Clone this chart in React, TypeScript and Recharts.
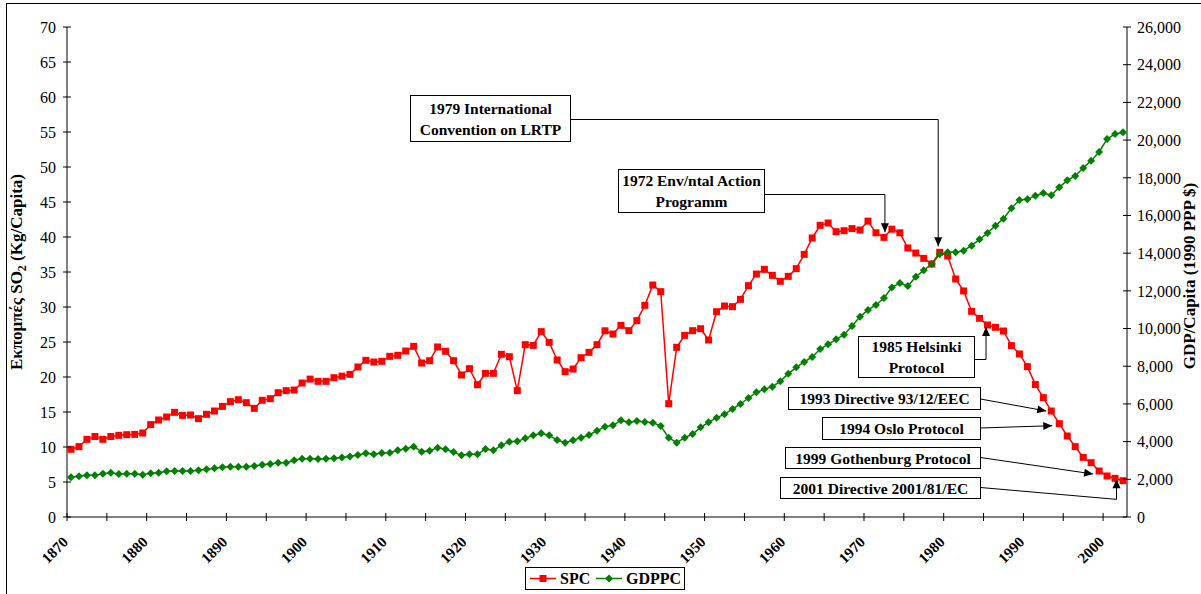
import React from 'react';
import { ComposedChart, Line, XAxis, YAxis, ReferenceDot } from 'recharts';

// ---------- data ----------
const FIRST_YEAR = 1870;

// SO2 emissions per capita (kg/capita), 1870..2002
const spc: number[] = [
  9.67, 10.05, 11.1, 11.5, 11.1, 11.5, 11.67, 11.76, 11.8, 12.0,
  13.2, 13.86, 14.29, 14.95, 14.52, 14.57, 14.05, 14.67, 15.14, 15.8,
  16.48, 16.76, 16.33, 15.52, 16.67, 16.9, 17.76, 18.05, 18.14, 19.14,
  19.7, 19.38, 19.38, 19.9, 20.12, 20.38, 21.43, 22.38, 22.14, 22.24,
  22.95, 23.1, 23.71, 24.38, 22.0, 22.33, 24.29, 23.67, 22.33, 20.29,
  21.19, 18.9, 20.52, 20.52, 23.24, 22.9, 18.05, 24.62, 24.52, 26.48,
  24.95, 22.43, 20.76, 21.14, 22.76, 23.52, 24.62, 26.6, 26.14, 27.38,
  26.62, 28.05, 30.24, 33.14, 32.19, 16.19, 24.24, 25.95, 26.62, 26.9,
  25.29, 29.33, 30.14, 30.05, 31.1, 33.05, 34.71, 35.38, 34.52, 33.67,
  34.38, 35.48, 37.52, 39.86, 41.67, 42.0, 40.76, 40.9, 41.2, 41.0,
  42.27, 40.6, 39.95, 41.12, 40.6, 38.43, 37.71, 36.95, 36.14, 37.81,
  37.29, 34.0, 32.29, 29.38, 28.38, 27.43, 27.1, 26.57, 24.48, 23.29,
  21.48, 18.92, 17.05, 15.14, 13.33, 11.57, 10.05, 8.52, 7.76, 6.57,
  5.86, 5.52, 5.19,
];

// GDP per capita (1990 PPP $), 1870..2002
const gdppc: number[] = [
  2106, 2160, 2213, 2213, 2300, 2353, 2282, 2300, 2300, 2246,
  2317, 2353, 2424, 2441, 2441, 2441, 2477, 2530, 2583, 2636,
  2671, 2671, 2671, 2706, 2777, 2812, 2883, 2883, 3007, 3096,
  3096, 3078, 3096, 3113, 3157, 3210, 3290, 3378, 3325, 3396,
  3414, 3537, 3626, 3732, 3467, 3520, 3679, 3590, 3449, 3272,
  3325, 3325, 3608, 3537, 3803, 3998, 4015, 4174, 4333, 4439,
  4333, 4086, 3944, 4068, 4210, 4351, 4581, 4785, 4864, 5129,
  5023, 5094, 5041, 5005, 4829, 4210, 3944, 4210, 4404, 4758,
  5023, 5271, 5448, 5731, 5996, 6314, 6615, 6774, 6916, 7199,
  7607, 7942, 8225, 8490, 8914, 9162, 9427, 9675, 10135, 10620,
  10990, 11250, 11620, 12180, 12410, 12257, 12752, 13090, 13425, 13937,
  14043, 14043, 14132, 14397, 14733, 15069, 15458, 15830, 16378, 16820,
  16856, 17050, 17192, 17068, 17493, 17864, 18094, 18519, 18908, 19367,
  20057, 20323, 20412,
];

const years: number[] = spc.map((_, i) => FIRST_YEAR + i);

const leftTicks = [0, 5, 10, 15, 20, 25, 30, 35, 40, 45, 50, 55, 60, 65, 70];
const rightTicks = [0, 2000, 4000, 6000, 8000, 10000, 12000, 14000, 16000, 18000, 20000, 22000, 24000, 26000];
// category boundaries (every 5 categories), labelled every 10 years
const xTicks = [
  1869.5, 1874.5, 1879.5, 1884.5, 1889.5, 1894.5, 1899.5, 1904.5, 1909.5,
  1914.5, 1919.5, 1924.5, 1929.5, 1934.5, 1939.5, 1944.5, 1949.5, 1954.5,
  1959.5, 1964.5, 1969.5, 1974.5, 1979.5, 1984.5, 1989.5, 1994.5, 1999.5,
];
const xLabelYears = [1870, 1880, 1890, 1900, 1910, 1920, 1930, 1940, 1950, 1960, 1970, 1980, 1990, 2000];

const data = years.map((year, i) => ({ year, spc: spc[i], gdppc: gdppc[i] }));

// ---------- styling ----------
const SERIF = '"Liberation Serif", "Times New Roman", Times, serif';
const RED = '#FF0000';
const GREEN = '#008000';

const valueOf = (year: number) => spc[year - FIRST_YEAR];

// ---------- ticks ----------
const XTick = (props: any) => {
  const { x, y, payload } = props;
  const yr = Math.round(payload.value + 0.5);
  const show = xLabelYears.includes(yr);
  const ax = x + 2;
  const ay = y + 26;
  return (
    <g>
      <line x1={x} x2={x} y1={y - 4} y2={y + 4} stroke="#000" strokeWidth={1} />
      {show && (
        <text
          x={ax}
          y={ay}
          transform={`rotate(-45 ${ax} ${ay})`}
          textAnchor="end"
          fontFamily={SERIF}
          fontWeight="bold"
          fontSize={15}
          fill="#000"
        >
          {yr}
        </text>
      )}
    </g>
  );
};

const LeftTick = (props: any) => {
  const { x, y, payload } = props;
  return (
    <g>
      <line x1={x - 4} x2={x + 4} y1={y} y2={y} stroke="#000" strokeWidth={1} />
      <text x={x - 11} y={y} dy="0.36em" textAnchor="end" fontFamily={SERIF} fontSize={16} fill="#000">
        {payload.value}
      </text>
    </g>
  );
};

const RightTick = (props: any) => {
  const { x, y, payload } = props;
  return (
    <g>
      <line x1={x - 4} x2={x + 4} y1={y} y2={y} stroke="#000" strokeWidth={1} />
      <text x={x + 10} y={y} dy="0.36em" textAnchor="start" fontFamily={SERIF} fontSize={16} fill="#000">
        {Number(payload.value).toLocaleString('en-US')}
      </text>
    </g>
  );
};

// ---------- markers ----------
const SquareDot = (p: any) => {
  if (p.cx == null || p.cy == null) return <g key={`s${p.index}`} />;
  return <rect key={`s${p.index}`} x={p.cx - 3.5} y={p.cy - 3.5} width={7} height={7} fill={RED} stroke="none" />;
};

const DiamondDot = (p: any) => {
  if (p.cx == null || p.cy == null) return <g key={`d${p.index}`} />;
  const { cx, cy } = p;
  const r = 4;
  return (
    <path
      key={`d${p.index}`}
      d={`M${cx},${cy - r}L${cx + r},${cy}L${cx},${cy + r}L${cx - r},${cy}Z`}
      fill={GREEN}
      stroke="none"
    />
  );
};

// ---------- annotations ----------
type Box = { x: number; y: number; w: number; h: number };
type Ann = {
  year: number;
  lines: string[];
  box: Box;
  path: (cx: number, cy: number) => [number, number][];
};

const annotations: Ann[] = [
  {
    year: 1979,
    lines: ['1979 International', 'Convention on LRTP'],
    box: { x: 410.5, y: 95.5, w: 160, h: 46 },
    path: (cx, cy) => [[570.5, 119.5], [cx - 1.5, 119.5], [cx - 1.5, cy - 6]],
  },
  {
    year: 1972,
    lines: ['1972 Env/ntal Action', 'Programm'],
    box: { x: 618.5, y: 169.5, w: 146, h: 43 },
    path: (cx, cy) => [[764.5, 194.5], [cx + 1, 194.5], [cx + 1, cy - 5]],
  },
  {
    year: 1985,
    lines: ['1985 Helsinki', 'Protocol'],
    box: { x: 858.5, y: 336.5, w: 116, h: 41 },
    path: (cx, cy) => [[974.5, 359.5], [cx - 1.5, 359.5], [cx - 1.5, cy + 2]],
  },
  {
    year: 1993,
    lines: ['1993 Directive 93/12/EEC'],
    box: { x: 788.5, y: 387.5, w: 192, h: 22 },
    path: (cx, cy) => [[980.5, 399], [cx - 5, cy]],
  },
  {
    year: 1994,
    lines: ['1994 Oslo Protocol'],
    box: { x: 822.5, y: 417.5, w: 158, h: 22 },
    path: (cx, cy) => [[980.5, 428], [cx - 7, cy + 2]],
  },
  {
    year: 1999,
    lines: ['1999 Gothenburg Protocol'],
    box: { x: 785.5, y: 447.5, w: 195, h: 21 },
    path: (cx, cy) => [[980.5, 457.5], [cx - 6, cy + 3]],
  },
  {
    year: 2001,
    lines: ['2001 Directive 2001/81/EC'],
    box: { x: 780.5, y: 477.5, w: 200, h: 21 },
    path: (cx, cy) => [[980.5, 487.5], [cx + 1.5, cy + 21], [cx + 1.5, cy + 1]],
  },
];

const arrowHead = (from: [number, number], to: [number, number]) => {
  const dx = to[0] - from[0];
  const dy = to[1] - from[1];
  const len = Math.sqrt(dx * dx + dy * dy) || 1;
  const ux = dx / len;
  const uy = dy / len;
  const L = 9;
  const W = 4;
  const bx = to[0] - ux * L;
  const by = to[1] - uy * L;
  return `M${to[0]},${to[1]}L${bx - uy * W},${by + ux * W}L${bx + uy * W},${by - ux * W}Z`;
};

const makeShape = (ann: Ann) => (p: any) => {
  const { cx, cy } = p;
  if (cx == null || cy == null) return <g />;
  const pts = ann.path(cx, cy);
  const d = pts.map((pt, i) => `${i === 0 ? 'M' : 'L'}${pt[0]},${pt[1]}`).join('');
  const head = arrowHead(pts[pts.length - 2], pts[pts.length - 1]);
  const { box, lines } = ann;
  const midX = box.x + box.w / 2;
  const lineGap = 21;
  const firstY = box.y + box.h / 2 - ((lines.length - 1) * lineGap) / 2;
  return (
    <g>
      <path d={d} fill="none" stroke="#000" strokeWidth={1} />
      <path d={head} fill="#000" stroke="none" />
      <rect x={box.x} y={box.y} width={box.w} height={box.h} fill="#fff" stroke="#000" strokeWidth={1} />
      {lines.map((t, i) => (
        <text
          key={i}
          x={midX}
          y={firstY + i * lineGap}
          dy="0.36em"
          textAnchor="middle"
          fontFamily={SERIF}
          fontWeight="bold"
          fontSize={15.5}
          fill="#000"
        >
          {t}
        </text>
      ))}
    </g>
  );
};

// ---------- app ----------
export default function App() {
  return (
    <div style={{ position: 'absolute', left: 0, top: 0, width: 1201, height: 594, background: '#fff', overflow: 'hidden' }}>
      <ComposedChart
        width={1201}
        height={594}
        data={data}
        margin={{ top: 27, right: 0, left: 0, bottom: 37 }}
      >
        <XAxis
          dataKey="year"
          type="number"
          domain={[1869.5, 2002.5]}
          ticks={xTicks}
          interval={0}
          height={40}
          tick={<XTick />}
          tickLine={false}
          tickSize={0}
          tickMargin={0}
          axisLine={{ stroke: '#000', strokeWidth: 1 }}
          allowDataOverflow
        />
        <YAxis
          yAxisId="left"
          orientation="left"
          domain={[0, 70]}
          ticks={leftTicks}
          interval={0}
          width={67}
          tick={<LeftTick />}
          tickLine={false}
          tickSize={0}
          tickMargin={0}
          axisLine={{ stroke: '#000', strokeWidth: 1 }}
          allowDataOverflow
        />
        <YAxis
          yAxisId="right"
          orientation="right"
          domain={[0, 26000]}
          ticks={rightTicks}
          interval={0}
          width={74}
          tick={<RightTick />}
          tickLine={false}
          tickSize={0}
          tickMargin={0}
          axisLine={{ stroke: '#000', strokeWidth: 1 }}
          allowDataOverflow
        />
        <Line
          yAxisId="left"
          type="linear"
          dataKey="spc"
          stroke={RED}
          strokeWidth={1.5}
          dot={SquareDot}
          activeDot={false}
          isAnimationActive={false}
        />
        <Line
          yAxisId="right"
          type="linear"
          dataKey="gdppc"
          stroke={GREEN}
          strokeWidth={1.5}
          dot={DiamondDot}
          activeDot={false}
          isAnimationActive={false}
        />
        {annotations.map((a) => (
          <ReferenceDot
            key={a.year}
            yAxisId="left"
            x={a.year}
            y={valueOf(a.year)}
            r={0}
            ifOverflow="visible"
            shape={makeShape(a)}
          />
        ))}
      </ComposedChart>

      <svg
        width={1201}
        height={594}
        style={{ position: 'absolute', left: 0, top: 0, pointerEvents: 'none' }}
      >
        {/* outer frame */}
        <rect x={6.5} y={3.5} width={1220} height={620} fill="none" stroke="#000" strokeWidth={1} />
        {/* left axis title */}
        <text
          transform="translate(22 272) rotate(-90)"
          textAnchor="middle"
          fontFamily={SERIF}
          fontWeight="bold"
          fontSize={17}
          fill="#000"
        >
          {'Εκπομπές SO'}
          <tspan fontSize={12} dy={4}>2</tspan>
          <tspan dy={-4}>{' (Kg/Capita)'}</tspan>
        </text>
        {/* right axis title */}
        <text
          transform="translate(1195 276) rotate(-90)"
          textAnchor="middle"
          fontFamily={SERIF}
          fontWeight="bold"
          fontSize={17}
          fill="#000"
        >
          GDP/Capita (1990 PPP $)
        </text>
        {/* legend */}
        <rect x={525.5} y={567.5} width={159} height={22} fill="#fff" stroke="#000" strokeWidth={1} />
        <line x1={530} x2={556} y1={578.5} y2={578.5} stroke={RED} strokeWidth={1.5} />
        <rect x={539.5} y={575} width={7} height={7} fill={RED} />
        <text x={560} y={578.5} dy="0.36em" fontFamily={SERIF} fontWeight="bold" fontSize={16} fill="#000">SPC</text>
        <line x1={596} x2={622} y1={578.5} y2={578.5} stroke={GREEN} strokeWidth={1.5} />
        <path d="M609,574.5L613,578.5L609,582.5L605,578.5Z" fill={GREEN} />
        <text x={626} y={578.5} dy="0.36em" fontFamily={SERIF} fontWeight="bold" fontSize={16} fill="#000">GDPPC</text>
      </svg>
    </div>
  );
}
